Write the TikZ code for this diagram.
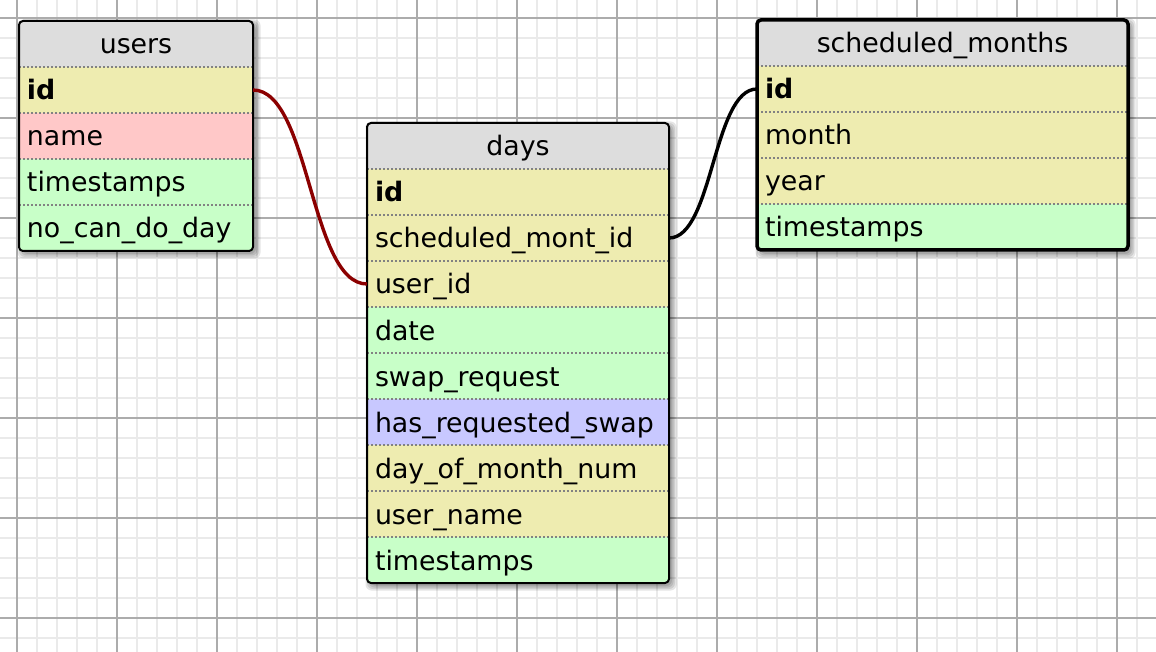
\documentclass[tikz,border=0pt]{standalone}
\usepackage{fontspec}
\setmainfont{DejaVu Sans}
\usetikzlibrary{positioning}
\definecolor{gridminor}{RGB}{234,234,234}
\definecolor{gridmajor}{RGB}{172,172,172}
\definecolor{headgray}{RGB}{221,221,221}
\definecolor{numyellow}{RGB}{238,236,176}
\definecolor{charpink}{RGB}{255,200,200}
\definecolor{timegreen}{RGB}{200,255,200}
\definecolor{miscblue}{RGB}{200,200,255}
\definecolor{fkred}{RGB}{139,0,0}
\definecolor{sepgray}{RGB}{130,130,130}
\newcommand{\tblfont}{\fontsize{26.8}{30}\selectfont}
% soft shadow under a table: left, top, right, bottom
\newcommand{\tblshadow}[4]{%
  \foreach \e in {0,1.5,3,4.5}
    \fill[shadowfill] ({#1+3-\e},{#2+3-\e}) rectangle ({#3+3+\e},{#4+3+\e});}
\tikzset{
  tblhead/.style={rectangle, fill=headgray, inner xsep=8pt, inner ysep=0pt,
    outer sep=0pt, minimum height=46pt, text height=23pt, text depth=3pt,
    align=center, font=\tblfont},
  field/.style={tblhead, align=left},
  numf/.style={field, fill=numyellow},
  charf/.style={field, fill=charpink},
  timef/.style={field, fill=timegreen},
  miscf/.style={field, fill=miscblue},
  usersw/.style={text width=218pt},
  daysw/.style={text width=286pt},
  monthsw/.style={text width=355pt},
  rowsep/.style={sepgray, line width=1.5pt, dash pattern=on 2pt off 2pt},
  tblborder/.style={black, line width=2pt, rounded corners=4pt},
  shadowfill/.style={fill=black, fill opacity=0.1, rounded corners=6pt},
  fkline/.style={line width=3.4pt},
}

\begin{document}
\begin{tikzpicture}[x=1pt,y=-1pt]
  \useasboundingbox (0,0) rectangle (1156,652);
  % grid paper
  \foreach \gx in {-3,17,...,1157} \draw[gridminor,line width=2pt] (\gx,0) -- (\gx,652);
  \foreach \gy in {-2,18,...,658} \draw[gridminor,line width=2pt] (0,\gy) -- (1156,\gy);
  \foreach \gx in {17,117,...,1117} \draw[gridmajor,line width=2pt] (\gx,0) -- (\gx,652);
  \foreach \gy in {18,118,...,618} \draw[gridmajor,line width=2pt] (0,\gy) -- (1156,\gy);

  \tblshadow{19}{21}{253}{251}
  \tblshadow{367}{123}{669}{583}
  \tblshadow{757}{20}{1128}{251}

  % users
  \node[tblhead,usersw,anchor=north west] (users-head) at (19,21) {users};
  \node[numf,usersw,below=0pt of users-head] (users-id) {\bfseries id};
  \node[charf,usersw,below=0pt of users-id] (users-name) {name};
  \node[timef,usersw,below=0pt of users-name] (users-ts) {timestamps};
  \node[timef,usersw,below=0pt of users-ts] (users-nocan) {no\_can\_do\_day};
  \foreach \r in {users-id,users-name,users-ts,users-nocan}
    \draw[rowsep] (\r.north west) -- (\r.north east);
  \draw[tblborder] (users-head.north west) rectangle (users-nocan.south east);

  % days
  \node[tblhead,daysw,anchor=north west] (days-head) at (367,123) {days};
  \node[numf,daysw,below=0pt of days-head] (days-id) {\bfseries id};
  \node[numf,daysw,below=0pt of days-id] (days-schedid) {scheduled\_mont\_id};
  \node[numf,daysw,below=0pt of days-schedid] (days-userid) {user\_id};
  \node[timef,daysw,below=0pt of days-userid] (days-date) {date};
  \node[timef,daysw,below=0pt of days-date] (days-swap) {swap\_request};
  \node[miscf,daysw,below=0pt of days-swap] (days-hasswap) {has\_requested\_swap};
  \node[numf,daysw,below=0pt of days-hasswap] (days-daynum) {day\_of\_month\_num};
  \node[numf,daysw,below=0pt of days-daynum] (days-uname) {user\_name};
  \node[timef,daysw,below=0pt of days-uname] (days-ts) {timestamps};
  \foreach \r in {days-id,days-schedid,days-userid,days-date,days-swap,
                  days-hasswap,days-daynum,days-uname,days-ts}
    \draw[rowsep] (\r.north west) -- (\r.north east);
  \draw[tblborder] (days-head.north west) rectangle (days-ts.south east);

  % scheduled_months (selected, heavier frame)
  \node[tblhead,monthsw,anchor=north west] (months-head) at (757,20) {scheduled\_months};
  \node[numf,monthsw,below=0pt of months-head] (months-id) {\bfseries id};
  \node[numf,monthsw,below=0pt of months-id] (months-month) {month};
  \node[numf,monthsw,below=0pt of months-month] (months-year) {year};
  \node[timef,monthsw,below=0pt of months-year] (months-ts) {timestamps};
  \foreach \r in {months-id,months-month,months-year,months-ts}
    \draw[rowsep] (\r.north west) -- (\r.north east);
  \draw[tblborder,line width=3.5pt] (months-head.north west) rectangle (months-ts.south east);

  % relations
  \draw[fkline,fkred] (users-id.east) .. controls +(57,0) and +(-57,0) .. (days-userid.west);
  \draw[fkline,black] (days-schedid.east) .. controls +(44,0) and +(-44,0) .. (months-id.west);
\end{tikzpicture}
\end{document}
